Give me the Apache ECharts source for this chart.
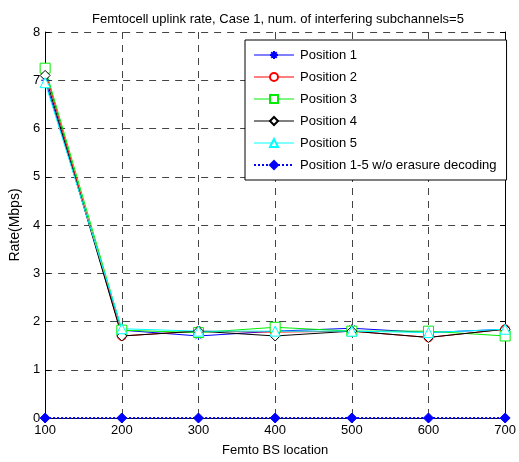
<!DOCTYPE html>
<html>
<head>
<meta charset="utf-8">
<script src="https://cdn.jsdelivr.net/npm/echarts@6/dist/echarts.min.js"></script>
<style>
  html, body { margin: 0; padding: 0; background: #fff; }
  #chart { width: 519px; height: 462px; }
</style>
</head>
<body>
<div id="chart"></div>
<script>
// femto BS locations
var locations = [100, 200, 300, 400, 500, 600, 700]
var yTicks = [0, 1, 2, 3, 4, 5, 6, 7, 8]

var pos1 = [7.0, 1.82, 1.70, 1.80, 1.86, 1.77, 1.84]
var pos2 = [7.2, 1.70, 1.80, 1.78, 1.80, 1.67, 1.84]
var pos3 = [7.25, 1.82, 1.77, 1.88, 1.80, 1.80, 1.70]
var pos4 = [7.1, 1.70, 1.80, 1.70, 1.80, 1.67, 1.84]
var pos5 = [6.95, 1.85, 1.80, 1.80, 1.80, 1.77, 1.84]
var posNoErasure = [0, 0, 0, 0, 0, 0, 0]

var seriesNames = ['Position 1', 'Position 2', 'Position 3', 'Position 4', 'Position 5', 'Position 1-5 w/o erasure decoding']

var asterisk = 'path://M5,0 L5,10 M0,5 L10,5 M1.5,1.5 L8.5,8.5 M8.5,1.5 L1.5,8.5'

function pair(vals) {
  return vals.map(function(v, i) { return [locations[i], v] })
}

function makeSeries(name, vals, color, symbol, size, dotted, filled) {
  return {
    name: name,
    type: 'line',
    data: pair(vals),
    symbol: symbol,
    symbolSize: size,
    showAllSymbol: true,
    lineStyle: { color: color, width: dotted ? 2 : 1, type: dotted ? [2, 2] : 'solid' },
    itemStyle: {
      color: filled ? color : '#fff',
      borderColor: color,
      borderWidth: 1
    },
    emphasis: { disabled: true },
    animation: false
  }
}

var chart = echarts.init(document.getElementById('chart'))
var fontFam = '"Liberation Sans", Arial, sans-serif'

var legendData = seriesNames.map(function(n, i) {
  return { name: n, lineStyle: { width: i === 5 ? 2 : 1 } }
})

chart.setOption({
  backgroundColor: '#fff',
  animation: false,
  title: {
    text: 'Femtocell uplink rate, Case 1, num. of interfering subchannels=5',
    left: 273,
    textAlign: 'center',
    top: 8,
    textStyle: { fontFamily: fontFam, fontSize: 13, fontWeight: 'normal', color: '#000' }
  },
  grid: { left: 43, right: 10, top: 32, bottom: 42 },
  legend: {
    orient: 'vertical',
    left: 245,
    top: 40,
    padding: [8, 10, 8, 8],
    itemGap: 8,
    itemWidth: 40,
    itemHeight: 10,
    backgroundColor: '#fff',
    borderColor: '#000',
    borderWidth: 1,
    borderRadius: 0,
    data: legendData,
    textStyle: { fontFamily: fontFam, fontSize: 13, lineHeight: 14, color: '#000', padding: [0, 0, 0, 1] }
  },
  xAxis: [{
    type: 'value',
    min: 100,
    max: 700,
    interval: 100,
    name: 'Femto BS location',
    nameLocation: 'middle',
    nameGap: 26,
    nameTextStyle: { fontFamily: fontFam, fontSize: 13, color: '#000' },
    axisLine: { lineStyle: { color: '#000', width: 1 } },
    axisTick: { inside: true, length: 5, lineStyle: { color: '#000' } },
    axisLabel: { fontFamily: fontFam, fontSize: 13, color: '#000', margin: 6 },
    splitLine: { show: true, lineStyle: { color: '#444', type: [7, 6], width: 1 } }
  }, {
    type: 'value',
    position: 'top',
    min: 100,
    max: 700,
    interval: 100,
    axisLine: { lineStyle: { color: '#000', width: 1 } },
    axisTick: { inside: true, length: 5, lineStyle: { color: '#000' } },
    axisLabel: { show: false },
    splitLine: { show: false }
  }],
  yAxis: [{
    type: 'value',
    min: 0,
    max: 8,
    interval: 1,
    name: 'Rate(Mbps)',
    nameLocation: 'middle',
    nameGap: 20,
    nameTextStyle: { fontFamily: fontFam, fontSize: 14, color: '#000' },
    axisLine: { show: true, lineStyle: { color: '#000', width: 1 } },
    axisTick: { show: true, inside: true, length: 5, lineStyle: { color: '#000' } },
    axisLabel: { fontFamily: fontFam, fontSize: 13, color: '#000', margin: 5 },
    splitLine: { show: true, lineStyle: { color: '#444', type: [7, 6], width: 1 } }
  }, {
    type: 'value',
    position: 'right',
    min: 0,
    max: 8,
    interval: 1,
    axisLine: { show: true, lineStyle: { color: '#000', width: 1 } },
    axisTick: { show: true, inside: true, length: 5, lineStyle: { color: '#000' } },
    axisLabel: { show: false },
    splitLine: { show: false }
  }],
  series: [
    makeSeries(seriesNames[0], pos1, '#0000ff', asterisk, 8, false, false),
    makeSeries(seriesNames[1], pos2, '#ff0000', 'circle', 9, false, false),
    makeSeries(seriesNames[2], pos3, '#00ee00', 'rect', 10, false, false),
    makeSeries(seriesNames[3], pos4, '#000000', 'diamond', 10, false, false),
    makeSeries(seriesNames[4], pos5, '#00ffff', 'triangle', 10, false, false),
    makeSeries(seriesNames[5], posNoErasure, '#0000ff', 'diamond', 10, true, true)
  ]
})
</script>
</body>
</html>
